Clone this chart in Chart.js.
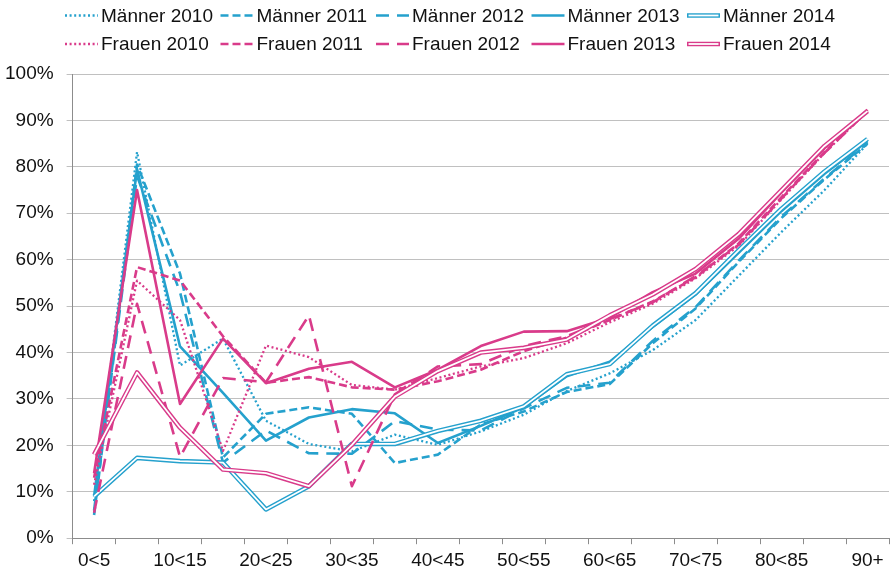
<!DOCTYPE html>
<html><head><meta charset="utf-8">
<script src="https://cdn.jsdelivr.net/npm/chart.js@4/dist/chart.umd.min.js"></script>
<style>html,body{margin:0;padding:0;background:#fff}#wrap{width:890px;height:571px;position:relative}</style>
</head><body><div id="wrap"><canvas id="c" width="890" height="571"></canvas></div>
<script>
const categories = ['0<5','5<10','10<15','15<20','20<25','25<30','30<35','35<40','40<45','45<50','50<55','55<60','60<65','65<70','70<75','75<80','80<85','85<90','90+'];

const maenner2010 = [8, 83.2, 37.2, 43, 25.3, 20.3, 18.7, 22.3, 20.1, 23, 26.6, 31.7, 35.5, 40.5, 47, 56.5, 66, 75, 85];
const maenner2011 = [5, 80.5, 57, 17.4, 26.8, 28.2, 26.8, 16.2, 18, 24.5, 27.3, 31.5, 33.2, 42, 49.5, 59.5, 69, 77.3, 85];
const maenner2012 = [6, 78, 53, 16.3, 23.2, 18.3, 18.2, 25.2, 23.4, 23.2, 28, 32.4, 33.5, 42.5, 49.8, 59.8, 69.3, 77.5, 85.2];
const maenner2013 = [9, 79.5, 41.3, 31.3, 21, 26, 27.8, 26.9, 20.5, 24.2, 28.2, 34.9, 38, 45.5, 52.5, 61.5, 70.5, 78.5, 85.5];
const maenner2014 = [9, 17.3, 16.6, 16.3, 6.2, 11.2, 20.3, 20.3, 23.1, 25.3, 28.4, 35.3, 37.5, 45.8, 52.8, 62, 71, 79, 86];

const frauen2010 = [11.5, 55.5, 47, 18.8, 41.5, 39, 33, 32, 34.5, 37, 38.8, 42, 46.5, 50.5, 56, 63, 73, 83, 92];
const frauen2011 = [13, 58.4, 55.5, 43.5, 33.5, 34.7, 32.5, 32, 33.8, 36.3, 40.3, 43.2, 47, 51, 56.2, 63.5, 73.5, 83.2, 92.3];
const frauen2012 = [5.5, 50.5, 17.5, 34.5, 33.6, 48, 11.2, 31, 37, 37.5, 41.4, 43.5, 47.2, 50.8, 56.5, 63.2, 73.2, 83, 92];
const frauen2013 = [14, 75, 28.9, 43, 33.4, 36.5, 38, 32.5, 36.3, 41.4, 44.5, 44.6, 47.5, 53, 57, 64.5, 74.5, 84, 92.2];
const frauen2014 = [18, 35.7, 23.8, 14.8, 14, 11.2, 20.1, 30.5, 36, 40, 41, 42.8, 48, 52.5, 58, 65.5, 75, 84.5, 92];

const seriesLabels = ['Männer 2010','Männer 2011','Männer 2012','Männer 2013','Männer 2014','Frauen 2010','Frauen 2011','Frauen 2012','Frauen 2013','Frauen 2014'];
const seriesValues = [maenner2010, maenner2011, maenner2012, maenner2013, maenner2014, frauen2010, frauen2011, frauen2012, frauen2013, frauen2014];

const BLUE = '#25a1cd', PINK = '#d93b8a';
const STYLES = {
  dot:    {dash: [2, 2.6], width: 2.3},
  dash:   {dash: [8, 4], width: 2.6},
  long:   {dash: [13, 8], width: 2.6},
  solid:  {dash: [], width: 2.6},
  dbl:    {dash: [], width: 4.6, inner: 1.8}
};
const styleOrder = ['dot','dash','long','solid','dbl'];

const datasets = [];
seriesLabels.forEach((lab, k) => {
  const color = k < 5 ? BLUE : PINK;
  const st = STYLES[styleOrder[k % 5]];
  datasets.push({
    label: lab, data: seriesValues[k], borderColor: color, backgroundColor: color,
    borderWidth: st.width, borderDash: st.dash, pointRadius: 0, tension: 0, fill: false,
    borderJoinStyle: 'round', borderCapStyle: 'butt', order: 100 - 2 * k,
    _style: styleOrder[k % 5]
  });
  if (st.inner) {
    datasets.push({
      label: lab + ' inner', data: seriesValues[k], borderColor: '#ffffff', backgroundColor: '#ffffff',
      borderWidth: st.inner, pointRadius: 0, tension: 0, fill: false,
      borderJoinStyle: 'round', order: 100 - 2 * k - 1, _inner: true
    });
  }
});

const legendPlugin = {
  id: 'colLegend',
  afterDraw(chart) {
    const ctx = chart.ctx;
    ctx.save();
    ctx.font = '19px "Liberation Sans", Arial, sans-serif';
    ctx.textBaseline = 'middle';
    ctx.textAlign = 'left';
    let idx = 0;
    chart.data.datasets.forEach(ds => {
      if (ds._inner) return;
      const row = idx < 5 ? 0 : 1, col = idx % 5;
      const x = 65 + col * 155.5, y = row ? 44 : 15.5;
      const st = STYLES[ds._style];
      ctx.beginPath();
      ctx.setLineDash(st.dash);
      ctx.lineWidth = st.width;
      ctx.strokeStyle = ds.borderColor;
      ctx.moveTo(x, y); ctx.lineTo(x + 33, y); ctx.stroke();
      if (st.inner) {
        ctx.beginPath(); ctx.setLineDash([]);
        ctx.lineWidth = st.inner; ctx.strokeStyle = '#fff';
        ctx.moveTo(x + 1.5, y); ctx.lineTo(x + 31.5, y); ctx.stroke();
      }
      ctx.setLineDash([]);
      ctx.fillStyle = '#111';
      ctx.fillText(ds.label, x + 36, y + 1);
      idx++;
    });
    ctx.restore();
  }
};

Chart.defaults.font.family = '"Liberation Sans", Arial, sans-serif';
Chart.defaults.color = '#111';

new Chart(document.getElementById('c'), {
  type: 'line',
  data: { labels: categories, datasets },
  options: {
    responsive: false, animation: false, devicePixelRatio: 1,
    layout: { padding: { top: 74, left: -8, right: 1, bottom: -6 } },
    plugins: { legend: { display: false }, tooltip: { enabled: false }, title: { display: false } },
    scales: {
      x: {
        type: 'category', offset: true,
        grid: { offset: true, drawOnChartArea: false, drawTicks: true, tickLength: 6, tickColor: '#8c8c8c' },
        border: { color: '#8c8c8c', width: 1 },
        ticks: {
          autoSkip: false, maxRotation: 0, minRotation: 0, padding: 5, font: { size: 19 }, color: '#111',
          callback: function (v, i) { return i % 2 === 0 ? this.getLabelForValue(v) : ''; }
        }
      },
      y: {
        min: 0, max: 100,
        grid: { color: '#c0c0c0', tickLength: 6, tickColor: '#c0c0c0' },
        border: { color: '#8c8c8c', width: 1 },
        ticks: { stepSize: 10, padding: 13, font: { size: 19 }, color: '#111', callback: v => v + '%' }
      }
    }
  },
  plugins: [legendPlugin]
});
</script>
</body></html>
